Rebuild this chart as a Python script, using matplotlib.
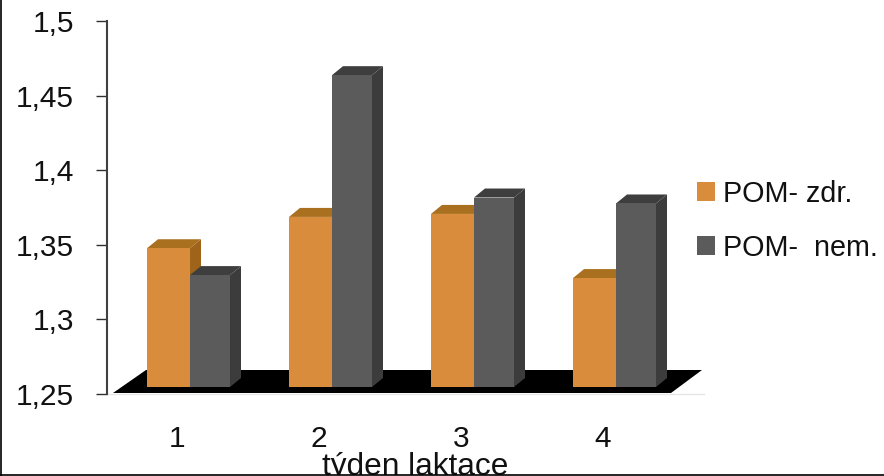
import matplotlib
matplotlib.use("Agg")
import matplotlib.pyplot as plt
from matplotlib.patches import Polygon, Rectangle, Patch
from matplotlib.lines import Line2D

categories = ["1", "2", "3", "4"]
pom_zdr = [1.343, 1.364, 1.366, 1.323]
pom_nem = [1.325, 1.459, 1.377, 1.373]
y_ticks = [1.25, 1.30, 1.35, 1.40, 1.45, 1.50]
y_labels = ["1,25", "1,3", "1,35", "1,4", "1,45", "1,5"]
series_names = ["POM- zdr.", "POM-  nem."]
x_title = "týden laktace"

W, H = 884, 476
FONT = "Liberation Sans"
FS = 21.5
plt.rcParams["font.family"] = [FONT, "DejaVu Sans"]

fig = plt.figure(figsize=(W / 100, H / 100), dpi=100, facecolor="white")
L, R, T, B = 106, 674, 21, 394
ax = fig.add_axes([L / W, 1 - B / H, (R - L) / W, (B - T) / H])
ax.set_xlim(0.5, 4.5)
ax.set_ylim(1.25, 1.5)
ax.patch.set_alpha(0)

px_x = 4.0 / (R - L)
px_y = 0.25 / (B - T)
DX, DY = 11 * px_x, 9 * px_y        # depth of the 3D boxes
SHIFT_X, SHIFT_Y = 13 * px_x, 7 * px_y  # bars stand inside the floor
BW_A = 43 * px_x
BW_B = 40 * px_x

# floor
fl = [(0.5 + 7 * px_x, 1.25 + 1 * px_y), (4.5 - 3 * px_x, 1.25 + 1 * px_y),
      (4.5 + 28 * px_x, 1.25 + 24 * px_y), (0.5 + 40 * px_x, 1.25 + 24 * px_y)]
ax.add_patch(Polygon(fl, closed=True, fc="black", ec="none", clip_on=False, zorder=1))
ax.add_line(Line2D([0.5, 4.5 + 30 * px_x], [1.25, 1.25], color="#e6e6e6", lw=1,
                   clip_on=False, zorder=0.5))


def box(x0, w, v, front, side, top, z):
    b = 1.25 + SHIFT_Y
    t = v + SHIFT_Y
    x1 = x0 + w
    ax.add_patch(Polygon([(x1, b), (x1 + DX, b + DY), (x1 + DX, t + DY), (x1, t)],
                         fc=side, ec="none", clip_on=False, zorder=z))
    ax.add_patch(Polygon([(x0, t), (x1, t), (x1 + DX, t + DY), (x0 + DX, t + DY)],
                         fc=top, ec="none", clip_on=False, zorder=z))
    ax.bar(x0 + w / 2, v - 1.25, w, bottom=b, color=front, clip_on=False, zorder=z + 0.1)


for i, (a, c) in enumerate(zip(pom_zdr, pom_nem)):
    x = i + 1 + SHIFT_X
    box(x - BW_A, BW_A, a, "#D98D3C", "#9F6419", "#A9701F", 2)
    box(x, BW_B, c, "#5B5B5B", "#3C3C3C", "#3E3E3E", 3)

ax.set_xticks(range(1, 5), categories)
ax.set_yticks(y_ticks, y_labels)
for s in ("top", "right", "bottom"):
    ax.spines[s].set_visible(False)
ax.spines["left"].set_color("#404040")
ax.spines["left"].set_linewidth(1.5)
ax.spines["left"].set_position(("outward", -1))
ax.tick_params(axis="y", length=8, width=1, color="#303030", labelsize=FS, pad=16, labelcolor="#111111")
ax.tick_params(axis="x", length=0, labelsize=FS, pad=22, labelcolor="#111111")

handles = [Patch(fc="#D98D3C", ec="none"), Patch(fc="#5B5B5B", ec="none")]
fig.legend(handles, series_names, loc="upper left",
           bbox_to_anchor=(697 / W, 1 - 180 / H), bbox_transform=fig.transFigure,
           frameon=False, fontsize=20.7, handlelength=0.63, handleheight=0.63,
           handletextpad=0.28, labelspacing=0.89, borderpad=0, borderaxespad=0,
           labelcolor="#111111")

fig.text(415 / W, 1 - 474.5 / H, x_title, ha="center", va="baseline", fontsize=22.8, color="#111111")
fig.add_artist(Rectangle((0, 0), 1, 1.5 / H, transform=fig.transFigure, fc="white", ec="none", zorder=9))
fig.add_artist(Line2D([0, 1], [1 - 474.5 / H] * 2, color="black", lw=1.2, zorder=10))
fig.add_artist(Line2D([1.2 / W] * 2, [1 - 474.5 / H, 1], color="black", lw=1.2, zorder=10))

fig.savefig("out.png", dpi=100)
